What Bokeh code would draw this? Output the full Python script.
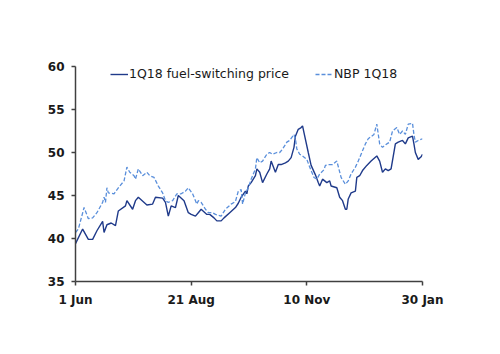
import pandas as pd
from bokeh.plotting import figure
from bokeh.models import Legend, LegendItem, DatetimeTickFormatter, FixedTicker, Range1d
from bokeh.embed import file_html
from bokeh.resources import INLINE

fuel_dates = ["2017-06-01","2017-06-06","2017-06-10","2017-06-13","2017-06-16","2017-06-20","2017-06-21",
              "2017-06-23","2017-06-26","2017-06-29","2017-07-01","2017-07-06","2017-07-07","2017-07-11",
              "2017-07-13","2017-07-15","2017-07-21","2017-07-25","2017-07-27","2017-08-01","2017-08-03",
              "2017-08-05","2017-08-07","2017-08-10","2017-08-12","2017-08-16","2017-08-19","2017-08-21",
              "2017-08-24","2017-08-26","2017-08-28","2017-09-01","2017-09-03","2017-09-06","2017-09-08",
              "2017-09-11","2017-09-13","2017-09-17","2017-09-21","2017-09-23","2017-09-25","2017-09-28",
              "2017-09-29","2017-09-30","2017-10-02","2017-10-05","2017-10-06","2017-10-08","2017-10-10",
              "2017-10-13","2017-10-15","2017-10-16","2017-10-19","2017-10-21","2017-10-23","2017-10-26",
              "2017-10-28","2017-10-30","2017-11-01","2017-11-02","2017-11-04","2017-11-06","2017-11-07",
              "2017-11-08","2017-11-11","2017-11-13","2017-11-16","2017-11-18","2017-11-19","2017-11-21",
              "2017-11-24","2017-11-26","2017-11-27","2017-12-01","2017-12-03","2017-12-05","2017-12-07",
              "2017-12-08","2017-12-09","2017-12-11","2017-12-14","2017-12-15","2017-12-17","2017-12-19",
              "2017-12-22","2017-12-25","2017-12-29","2017-12-31","2018-01-02","2018-01-04","2018-01-06",
              "2018-01-08","2018-01-11","2018-01-13","2018-01-16","2018-01-18","2018-01-20","2018-01-23",
              "2018-01-24","2018-01-25","2018-01-27","2018-01-29","2018-01-30"]
fuel_price = [39.4,41.1,39.9,39.9,40.9,42.0,40.7,
              41.6,41.8,41.5,43.2,43.8,44.4,43.4,
              44.4,44.8,43.9,44.0,44.8,44.7,44.2,
              42.6,43.8,43.6,45.0,44.4,43.0,42.8,
              42.6,43.0,43.4,42.8,42.8,42.4,42.05,
              42.05,42.4,43.0,43.6,44.1,44.8,45.5,
              45.2,46.1,46.5,47.3,48.1,47.7,46.5,
              47.5,48.1,49.0,47.7,48.6,48.6,48.8,
              49.0,49.4,50.6,51.9,52.7,52.9,53.1,
              52.3,50.0,48.5,47.4,46.5,46.1,46.9,
              46.5,46.7,46.1,45.9,44.8,44.4,43.4,
              43.4,44.6,45.3,45.5,47.1,47.3,47.9,
              48.5,49.0,49.6,49.0,47.7,48.1,47.9,
              48.1,51.0,51.2,51.4,51.0,51.7,51.9,
              51.0,50.0,49.2,49.5,49.8]

nbp_dates = ["2017-06-01","2017-06-03","2017-06-07","2017-06-10","2017-06-13","2017-06-16","2017-06-20",
             "2017-06-21","2017-06-22","2017-06-23","2017-06-24","2017-06-28","2017-07-01","2017-07-05",
             "2017-07-07","2017-07-09","2017-07-12","2017-07-13","2017-07-15","2017-07-18","2017-07-21",
             "2017-07-23","2017-07-26","2017-07-29","2017-08-01","2017-08-03","2017-08-05","2017-08-08",
             "2017-08-11","2017-08-14","2017-08-17","2017-08-19","2017-08-22","2017-08-25","2017-08-26",
             "2017-08-28","2017-08-31","2017-09-02","2017-09-05","2017-09-07","2017-09-11","2017-09-14",
             "2017-09-18","2017-09-21","2017-09-23","2017-09-25","2017-09-26","2017-09-28","2017-09-30",
             "2017-10-02","2017-10-05","2017-10-06","2017-10-08","2017-10-10","2017-10-13","2017-10-15",
             "2017-10-17","2017-10-20","2017-10-22","2017-10-24","2017-10-27","2017-10-29","2017-11-01",
             "2017-11-02","2017-11-03","2017-11-05","2017-11-07","2017-11-10","2017-11-12","2017-11-15",
             "2017-11-17","2017-11-19","2017-11-22","2017-11-23","2017-11-25","2017-11-28","2017-12-01",
             "2017-12-04","2017-12-07","2017-12-09","2017-12-11","2017-12-14","2017-12-16","2017-12-18",
             "2017-12-21","2017-12-23","2017-12-27","2017-12-29","2017-12-31","2018-01-02","2018-01-05",
             "2018-01-07","2018-01-09","2018-01-12","2018-01-14","2018-01-16","2018-01-18","2018-01-20",
             "2018-01-23","2018-01-24","2018-01-25","2018-01-27","2018-01-30"]
nbp_price = [40.7,41.1,43.6,42.3,42.4,43.0,44.2,
             44.8,44.2,45.9,45.3,45.2,45.9,46.7,
             48.3,47.7,47.3,46.9,48.1,47.3,47.7,
             47.3,47.1,46.1,45.3,44.4,44.2,44.4,
             45.2,45.2,45.5,45.9,45.2,44.0,44.4,
             44.2,43.4,43.0,43.0,42.8,42.6,43.4,
             44.0,44.3,45.5,45.7,44.0,45.3,45.9,
             46.9,48.1,49.4,48.8,49.0,49.8,50.0,
             49.8,50.0,50.0,50.4,51.2,51.4,52.1,
             51.6,50.4,49.8,49.6,49.2,48.3,47.1,
             46.9,47.5,48.0,48.5,48.6,48.6,49.0,
             47.1,46.3,46.7,47.5,48.3,49.0,49.8,
             51.0,51.6,52.1,53.3,51.0,50.6,51.0,
             51.2,52.5,52.9,52.1,52.5,52.1,53.3,
             53.4,52.1,51.2,51.4,51.6]

x_tick_dates = ["2017-06-01", "2017-08-21", "2017-11-10", "2018-01-30"]
x_tick_labels = ["1 Jun", "21 Aug", "10 Nov", "30 Jan"]
y_ticks = [35, 40, 45, 50, 55, 60]

series_names = ["1Q18 fuel-switching price", "NBP 1Q18"]

fd = pd.to_datetime(fuel_dates)
nd = pd.to_datetime(nbp_dates)
td = pd.to_datetime(x_tick_dates)
tick_ms = [t.value / 1e6 for t in td]

p = figure(width=500, height=354, x_axis_type="datetime", output_backend="svg",
           toolbar_location=None, min_border_left=75, min_border_right=78,
           min_border_top=66, min_border_bottom=73)
p.x_range = Range1d(tick_ms[0], tick_ms[-1])
p.y_range = Range1d(35, 60)

r1 = p.line(fd, fuel_price, line_color="#1F3A8A", line_width=1.4)
r2 = p.line(nd, nbp_price, line_color="#5A8FDB", line_width=1.3, line_dash="4 2")

p.xgrid.visible = False
p.ygrid.visible = False
p.outline_line_color = None
p.background_fill_color = "white"
p.border_fill_color = "white"

xa = p.xaxis[0]
xa.ticker = FixedTicker(ticks=tick_ms)
xa.major_label_overrides = {tick_ms[i]: x_tick_labels[i] for i in range(len(tick_ms))}
ya = p.yaxis[0]
ya.ticker = FixedTicker(ticks=y_ticks)

for ax in (xa, ya):
    ax.axis_line_color = "#404040"
    ax.axis_line_width = 1.5
    ax.major_tick_line_color = "#404040"
    ax.major_tick_line_width = 1.5
    ax.major_tick_in = 0
    ax.major_tick_out = 4
    ax.minor_tick_line_color = None
    ax.major_label_text_font = "DejaVu Sans"
    ax.major_label_text_font_style = "bold"
    ax.major_label_text_font_size = "12px"
    ax.major_label_text_color = "#1a1a1a"
xa.major_label_standoff = 7
ya.major_label_standoff = 7

legend = Legend(items=[LegendItem(label=series_names[0], renderers=[r1]),
                       LegendItem(label=series_names[1], renderers=[r2])],
                orientation="horizontal", location=(35, 200),
                padding=0, margin=0, spacing=26, label_standoff=1,
                glyph_width=18, glyph_height=14, label_height=14,
                label_text_font="DejaVu Sans", label_text_font_size="12.5px",
                label_text_color="#1a1a1a",
                border_line_color=None, background_fill_alpha=0)
p.add_layout(legend)

open("out.html", "w").write(file_html(p, INLINE))
